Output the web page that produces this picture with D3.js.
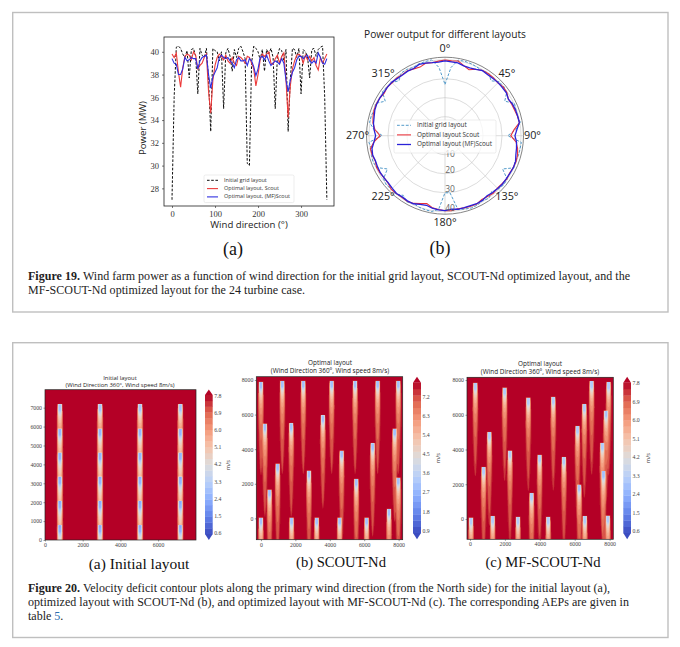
<!DOCTYPE html>
<html>
<head>
<meta charset="utf-8">
<script src="https://cdn.jsdelivr.net/npm/d3@7"></script>
<style>
  html, body { margin: 0; padding: 0; background: #fff; }
  svg { display: block; }
  text { fill: #111; }
  .sans { font-family: "Open Sans", sans-serif; }
  .serif { font-family: "Liberation Serif", serif; }
</style>
</head>
<body>
<svg id="chart" width="680" height="647"></svg>
<script>
// Figure 19: power against wind direction
const directions = [0,5,10,15,20,25,30,35,40,45,50,55,60,65,70,75,80,85,90,95,100,105,110,115,120,125,130,135,140,145,150,155,160,165,170,175,180,185,190,195,200,205,210,215,220,225,230,235,240,245,250,255,260,265,270,275,280,285,290,295,300,305,310,315,320,325,330,335,340,345,350,355,360];
const powerInitial = [27.0,36.0,40.4,40.5,40.3,39.8,39.5,40.1,37.7,40.2,40.3,39.6,36.3,40.3,39.7,39.5,40.3,37.5,33.0,40.3,40.1,40.0,39.2,40.0,35.0,39.9,40.3,39.6,38.3,40.2,39.5,40.3,40.5,40.0,39.4,30.2,30.0,39.0,40.5,40.3,40.0,39.3,40.2,38.3,40.2,39.8,40.3,39.5,35.0,39.6,40.3,40.1,39.2,40.2,33.0,37.5,40.3,40.2,39.5,40.3,36.3,40.2,40.0,39.6,37.7,40.2,40.3,39.6,40.2,40.4,40.5,36.0,27.0];
const powerScout = [39.8,39.5,39.9,38.2,36.9,38.6,39.6,39.8,39.7,39.3,40.0,39.7,38.5,38.8,39.0,39.5,39.8,36.5,34.6,37.5,38.8,39.5,39.8,39.6,39.3,39.7,39.2,39.0,39.5,39.0,38.8,39.6,39.5,39.3,39.0,39.6,39.5,39.0,38.5,37.0,38.0,39.3,39.8,39.6,39.8,40.0,39.0,38.9,39.4,39.7,39.0,39.6,39.9,37.5,34.2,37.0,38.5,39.2,39.7,39.8,39.6,39.0,39.7,39.3,39.6,39.2,39.5,38.8,38.4,39.5,39.0,39.4,39.8];
const powerMfScout = [39.4,39.0,38.9,38.0,38.0,38.5,39.5,39.2,39.3,39.5,39.4,39.4,38.5,39.2,39.5,39.6,39.7,38.0,36.8,37.8,38.2,38.6,39.5,39.7,39.5,39.4,39.5,39.2,39.0,38.6,39.3,39.5,39.2,39.2,39.3,38.8,39.4,39.2,38.7,37.9,38.5,39.5,39.6,39.3,39.7,39.2,38.8,39.0,39.2,39.1,38.9,39.4,39.0,37.5,36.5,37.5,38.2,38.6,39.3,39.6,39.6,39.4,39.6,39.7,39.2,39.0,39.2,39.0,39.9,39.5,39.0,38.9,39.4];
const powerTicks = [28,30,32,34,36,38,40];
const directionTicks = [0,100,200,300];
const polarAngles = [0,45,90,135,180,225,270,315];
const polarRings = [10,20,30,40];
const seriesNames = ['Initial grid layout','Optimal layout, Scout','Optimal layout, (MF)Scout'];
const polarNames = ['Initial grid layout','Optimal layout Scout','Optimal layout (MF)Scout'];

// Figure 20: turbine positions, metres [x, y]
const turbinesInitial = [[790,7200],[790,5900],[790,4630],[790,3360],[790,2080],[790,800],[2920,7200],[2920,5900],[2920,4630],[2920,3360],[2920,2080],[2920,800],[5040,7200],[5040,5900],[5040,4630],[5040,3360],[5040,2080],[5040,800],[7180,7200],[7180,5900],[7180,4630],[7180,3360],[7180,2080],[7180,800]];
const turbinesScout = [[0,7900],[230,5490],[500,1680],[970,3180],[0,60],[1240,7960],[1760,5510],[1780,60],[2460,7960],[2790,2770],[3240,60],[3600,5970],[4110,7960],[4690,3930],[4570,60],[5540,2290],[5470,7960],[6140,60],[6490,4350],[6780,7960],[7440,560],[7770,5200],[7980,7960],[7980,2370]];
const turbinesMf = [[305,7850],[60,100],[780,2990],[1110,5010],[1300,170],[1985,7580],[2290,3950],[2750,130],[3340,7000],[3530,1500],[3990,3700],[4480,130],[4770,7040],[5380,3570],[6160,5350],[6260,2000],[6550,6620],[6580,170],[6970,7950],[7580,4400],[7650,2760],[7790,6260],[7940,7890],[7900,210]];
const barTicksInitial = [0.6,1.5,2.4,3.3,4.2,5.1,6.0,6.9,7.8];
const barTicksScout = [0.9,1.8,2.7,3.6,4.5,5.4,6.3,7.2];
const coolwarm = ['#3b4cc0','#6282ea','#8db0fe','#b9d0f9','#dddcdc','#f5c4ac','#f49a7b','#e0654f','#b40426'];

const svg = d3.select('#chart');

// the source figure is a soft raster, so marks get a very slight blur
svg.append('filter').attr('id', 'soft').attr('x', '-5%').attr('y', '-5%').attr('width', '110%').attr('height', '110%')
  .append('feGaussianBlur').attr('stdDeviation', 0.35);

// outer boxes of the two figures
[[12.7,12.5,655.3,299.5],[12.7,342.7,655.3,294.8]].forEach(b => {
  svg.append('rect').attr('x', b[0]).attr('y', b[1]).attr('width', b[2]).attr('height', b[3])
    .attr('fill', 'none').attr('stroke', '#bfbfbf').attr('stroke-width', 1.4);
});

function label(txt, x, y, size, cls, anchor) {
  return svg.append('text').attr('class', cls).attr('x', x).attr('y', y)
    .attr('font-size', size).attr('text-anchor', anchor || 'middle').attr('dominant-baseline', 'middle').text(txt);
}

function legend(x, y, w, h, names, styles, lineX, textX, rowH, size, opacity) {
  svg.append('rect').attr('x', x).attr('y', y).attr('width', w).attr('height', h)
    .attr('fill', '#fff').attr('fill-opacity', opacity).attr('stroke', '#d8d8d8').attr('stroke-width', 0.5).attr('rx', 1.5);
  names.forEach((n, i) => {
    const ly = y + 5.3 + i * rowH;
    svg.append('line').attr('x1', x + lineX[0]).attr('x2', x + lineX[1]).attr('y1', ly).attr('y2', ly)
      .attr('stroke', styles[i].color).attr('stroke-width', styles[i].width).attr('stroke-dasharray', styles[i].dash);
    label(n, x + textX, ly, size, 'sans', 'start').style('fill', '#333');
  });
}

// ---- 19 (a) line chart
function drawPowerLines() {
  const left = 164, right = 334, top = 37, bottom = 206;
  const x = d3.scaleLinear().domain([-18.6, 376.6]).range([left, right]);
  const y = d3.scaleLinear().domain([26.45, 41.3]).range([bottom, top]);
  const line = vals => d3.line().x((d, i) => x(directions[i])).y(d => y(d))(vals);

  const g = svg.append('g').attr('filter', 'url(#soft)');
  g.append('path').attr('d', line(powerInitial)).attr('fill', 'none').attr('stroke', '#111').attr('stroke-width', 1).attr('stroke-dasharray', '2.6,1.6');
  g.append('path').attr('d', line(powerScout)).attr('fill', 'none').attr('stroke', '#ec3b3b').attr('stroke-width', 1.1);
  g.append('path').attr('d', line(powerMfScout)).attr('fill', 'none').attr('stroke', '#2f2fe0').attr('stroke-width', 1.1);

  const xa = svg.append('g').attr('transform', `translate(0,${bottom})`)
    .call(d3.axisBottom(x).tickValues(directionTicks).tickSize(2).tickFormat(d => d));
  const ya = svg.append('g').attr('transform', `translate(${left},0)`)
    .call(d3.axisLeft(y).tickValues(powerTicks).tickSize(2).tickFormat(d => d));
  [xa, ya].forEach(a => {
    a.selectAll('.domain').remove();
    a.selectAll('text').attr('class', 'serif').attr('font-size', 8.5).attr('font-family', null).style('fill', '#333');
    a.selectAll('line').attr('stroke', '#222').attr('stroke-width', 0.6);
  });
  svg.append('rect').attr('x', left).attr('y', top).attr('width', right - left).attr('height', bottom - top)
    .attr('fill', 'none').attr('stroke', '#222').attr('stroke-width', 0.8);

  legend(204, 175, 90, 27.6, seriesNames, [
    { color: '#111', width: 1, dash: '2.6,1.6' },
    { color: '#ec3b3b', width: 1.1 },
    { color: '#2f2fe0', width: 1.1 }
  ], [3, 14], 20, 8.3, 5.5, 0.85);

  label('Wind direction (°)', 249, 225, 9.6, 'sans').style('fill', '#222');
  label('Power (MW)', 0, 0, 9.6, 'sans').style('fill', '#222').attr('transform', 'translate(143.5,128) rotate(-90)');
}

// ---- 19 (b) polar chart
function drawPolar() {
  const cx = 445, cy = 135.7, outer = 78.5;
  const r = d3.scaleLinear().domain([0, 41.3]).range([0, outer]);
  const g = svg.append('g').attr('transform', `translate(${cx},${cy})`);
  const rad = a => a * Math.PI / 180;

  polarRings.forEach(v => {
    g.append('circle').attr('r', r(v)).attr('fill', 'none').attr('stroke', '#c4c4c4').attr('stroke-width', 0.6);
  });
  polarAngles.forEach(a => {
    g.append('line').attr('x2', outer * Math.sin(rad(a))).attr('y2', -outer * Math.cos(rad(a)))
      .attr('stroke', '#c4c4c4').attr('stroke-width', 0.6);
    label(a + '°', cx + 87.5 * Math.sin(rad(a)), cy - 87 * Math.cos(rad(a)), 10.8, 'sans').style('fill', '#222');
  });
  polarRings.forEach(v => {
    // the 10 sits just clear of the legend
    label(v, cx + 5, cy + r(v) - (v === 10 ? 0 : 3), 8.5, 'sans').style('fill', '#666');
  });

  const line = d3.lineRadial().angle((d, i) => rad(directions[i])).radius(d => r(d));
  const marks = g.append('g').attr('filter', 'url(#soft)');
  marks.append('path').attr('d', line(powerInitial)).attr('fill', 'none').attr('stroke', '#3f8fc4').attr('stroke-width', 0.9).attr('stroke-dasharray', '2.8,1.6');
  marks.append('path').attr('d', line(powerScout)).attr('fill', 'none').attr('stroke', '#e8323a').attr('stroke-width', 1.1);
  marks.append('path').attr('d', line(powerMfScout)).attr('fill', 'none').attr('stroke', '#2a22d8').attr('stroke-width', 1.3);
  g.append('circle').attr('r', outer).attr('fill', 'none').attr('stroke', '#777').attr('stroke-width', 0.9);

  legend(394, 120, 102, 33, polarNames, [
    { color: '#3f8fc4', width: 0.9, dash: '2.8,1.6' },
    { color: '#e8323a', width: 1.1 },
    { color: '#2a22d8', width: 1.3 }
  ], [3, 17], 23, 9.6, 6.4, 0.75);

  label('Power output for different layouts', cx, 35.2, 10.2, 'sans').style('fill', '#222');
}

// velocity at a point from all wakes, wind blowing towards -y
function velocity(px, py, turbines) {
  const wakeLength = 5400;
  let sum = 0;
  turbines.forEach(t => {
    const d = t[1] - py;
    if (d <= 0 || d >= wakeLength) return;
    const b = (145 + 45 * Math.min(d / 1500, 1)) * Math.sqrt(1 - Math.pow(d / wakeLength, 2));
    const dx = Math.abs(px - t[0]);
    if (dx >= b) return;
    const n = 3 + 3 * Math.exp(-d / 400);
    const profile = Math.exp(-Math.pow(dx / (0.85 * b), n));
    const centre = 5 / Math.pow(1 + Math.max(d - 350, 0) / 600, 0.9);
    sum += Math.pow(centre * profile, 2);
  });
  return 8 - Math.sqrt(sum);
}

// ---- 20 contour panels
function drawContour(p) {
  const x = d3.scaleLinear().domain(p.xDomain).range([p.left, p.right]);
  const y = d3.scaleLinear().domain(p.yDomain).range([p.bottom, p.top]);
  const w = Math.round((p.right - p.left) * 3), h = Math.round((p.bottom - p.top) * 3);

  const values = new Float64Array(w * h);
  for (let j = 0; j < h; j++) {
    for (let i = 0; i < w; i++) {
      values[j * w + i] = velocity(x.invert(p.left + (i + 0.5) / 3), y.invert(p.top + (j + 0.5) / 3), p.turbines);
    }
  }

  const color = d3.scaleSequential(d3.piecewise(d3.interpolateRgb, coolwarm)).domain(p.barRange);
  const step = (p.barRange[1] - p.barRange[0]) / 24;
  const levels = d3.range(24).map(i => p.barRange[0] + i * step);

  const toPx = d3.geoTransform({ point(a, b) { this.stream.point(p.left + a / 3, p.top + b / 3); } });
  const path = d3.geoPath(toPx);
  const clipId = 'clip' + p.left;
  svg.append('clipPath').attr('id', clipId).append('rect')
    .attr('x', p.left).attr('y', p.top).attr('width', p.right - p.left).attr('height', p.bottom - p.top);
  const g = svg.append('g').attr('clip-path', `url(#${clipId})`).append('g').attr('filter', 'url(#soft)');
  g.append('rect').attr('x', p.left).attr('y', p.top).attr('width', p.right - p.left).attr('height', p.bottom - p.top)
    .attr('fill', color(p.barRange[0]));
  const contours = d3.contours().size([w, h]).thresholds(levels);
  g.selectAll('path').data(contours(Array.from(values))).join('path')
    .attr('d', path).attr('fill', d => color(d.value + step / 2));
  // everything at the top of the range
  g.append('path').datum(d3.contours().size([w, h]).contour(Array.from(values), p.barRange[1]))
    .attr('d', path).attr('fill', coolwarm[coolwarm.length - 1]);

  svg.append('rect').attr('x', p.left).attr('y', p.top).attr('width', p.right - p.left).attr('height', p.bottom - p.top)
    .attr('fill', 'none').attr('stroke', '#222').attr('stroke-width', 0.7);

  const xa = svg.append('g').attr('transform', `translate(0,${p.bottom})`)
    .call(d3.axisBottom(x).tickValues(p.xTicks).tickSize(1.5).tickPadding(1.5).tickFormat(d => d));
  const ya = svg.append('g').attr('transform', `translate(${p.left},0)`)
    .call(d3.axisLeft(y).tickValues(p.yTicks).tickSize(1.5).tickPadding(1.5).tickFormat(d => d));
  [xa, ya].forEach(a => {
    a.selectAll('.domain').remove();
    a.selectAll('text').attr('class', 'serif').attr('font-size', 5.8).attr('font-family', null).style('fill', '#444');
    a.selectAll('line').attr('stroke', '#333').attr('stroke-width', 0.5);
  });

  const cb = d3.scaleLinear().domain(p.barRange).range([p.barBody[1], p.barBody[0]]);
  svg.append('g').selectAll('rect').data(levels).join('rect')
    .attr('x', p.barX[0]).attr('width', p.barX[1] - p.barX[0])
    .attr('y', d => cb(d + step)).attr('height', d => cb(d) - cb(d + step) + 0.3)
    .attr('fill', d => color(d + step / 2));
  const midBar = (p.barX[0] + p.barX[1]) / 2;
  svg.append('path').attr('d', `M${p.barX[0]},${p.barBody[0]}L${midBar},${p.barTips[0]}L${p.barX[1]},${p.barBody[0]}Z`).attr('fill', coolwarm[coolwarm.length - 1]);
  svg.append('path').attr('d', `M${p.barX[0]},${p.barBody[1]}L${midBar},${p.barTips[1]}L${p.barX[1]},${p.barBody[1]}Z`).attr('fill', coolwarm[0]);
  p.barTicks.forEach(v => {
    label(v.toFixed(1), p.barX[1] + 1.5, cb(v), 5.8, 'serif', 'start').style('fill', '#444');
  });
  label('m/s', 0, 0, 5.8, 'sans').style('fill', '#333').attr('transform', `translate(${p.unitPos[0]},${p.unitPos[1]}) rotate(-90)`);

  label(p.title, p.titleX, p.titleY[0], p.titleSize, 'sans').style('fill', '#222');
  label('(Wind Direction 360°, Wind speed 8m/s)', p.titleX, p.titleY[1], p.titleSize, 'sans').style('fill', '#222');
}

drawPowerLines();
drawPolar();

drawContour({
  turbines: turbinesInitial, title: 'Initial layout', titleSize: 5.9,
  left: 45, right: 196, top: 389.7, bottom: 540,
  xDomain: [0, 8010], yDomain: [0, 7950],
  xTicks: [0,2000,4000,6000], yTicks: [0,1000,2000,3000,4000,5000,6000,7000],
  barX: [205, 212.7], barBody: [395, 534], barTips: [389.5, 540], barRange: [0.58, 7.89], barTicks: barTicksInitial,
  unitPos: [228, 465], titleX: 120, titleY: [378, 385]
});
drawContour({
  turbines: turbinesScout, title: 'Optimal layout', titleSize: 6.4,
  left: 256.3, right: 402.7, top: 376.7, bottom: 539.7,
  xDomain: [-270, 8236], yDomain: [-1233, 8190],
  xTicks: [0,2000,4000,6000,8000], yTicks: [0,2000,4000,6000,8000],
  barX: [413, 421], barBody: [382.7, 533], barTips: [376.7, 539.3], barRange: [0.82, 7.9], barTicks: barTicksScout,
  unitPos: [438, 458], titleX: 330, titleY: [363, 371.7]
});
drawContour({
  turbines: turbinesMf, title: 'Optimal layout', titleSize: 6.4,
  left: 467, right: 613.3, top: 377.3, bottom: 539.3,
  xDomain: [-172, 8210], yDomain: [-1170, 8157],
  xTicks: [0,2000,4000,6000,8000], yTicks: [0,2000,4000,6000,8000],
  barX: [623.3, 631], barBody: [382.7, 533], barTips: [376.7, 539.3], barRange: [0.55, 7.86], barTicks: barTicksInitial,
  unitPos: [648, 458], titleX: 540, titleY: [364, 372]
});

// sub-captions
label('(a)', 233, 251, 18, 'serif');
label('(b)', 440, 250, 18, 'serif');
label('(a) Initial layout', 139, 565, 15.5, 'serif');
label('(b) SCOUT-Nd', 341, 564, 14.6, 'serif');
label('(c) MF-SCOUT-Nd', 543, 564, 14.6, 'serif');

// figure captions, fitted to the line widths of the reference
function caption(x, y, bold, rest, width) {
  const t = svg.append('text').attr('class', 'serif').attr('x', x).attr('y', y).attr('font-size', 12).style('fill', '#222');
  if (width) t.attr('textLength', width).attr('lengthAdjust', 'spacing');
  if (bold) t.append('tspan').attr('font-weight', 'bold').text(bold);
  t.append('tspan').text(rest);
  return t;
}
caption(28, 279.5, 'Figure 19.', ' Wind farm power as a function of wind direction for the initial grid layout, SCOUT-Nd optimized layout, and the', 602);
caption(28, 293.5, '', 'MF-SCOUT-Nd optimized layout for the 24 turbine case.', 277);
caption(28, 592, 'Figure 20.', ' Velocity deficit contour plots along the primary wind direction (from the North side) for the initial layout (a),', 582);
caption(28, 606, '', 'optimized layout with SCOUT-Nd (b), and optimized layout with MF-SCOUT-Nd (c). The corresponding AEPs are given in', 601);
const last = caption(28, 620, '', 'table ');
last.append('tspan').style('fill', '#2a6fb0').text('5');
last.append('tspan').text('.');
</script>
</body>
</html>
